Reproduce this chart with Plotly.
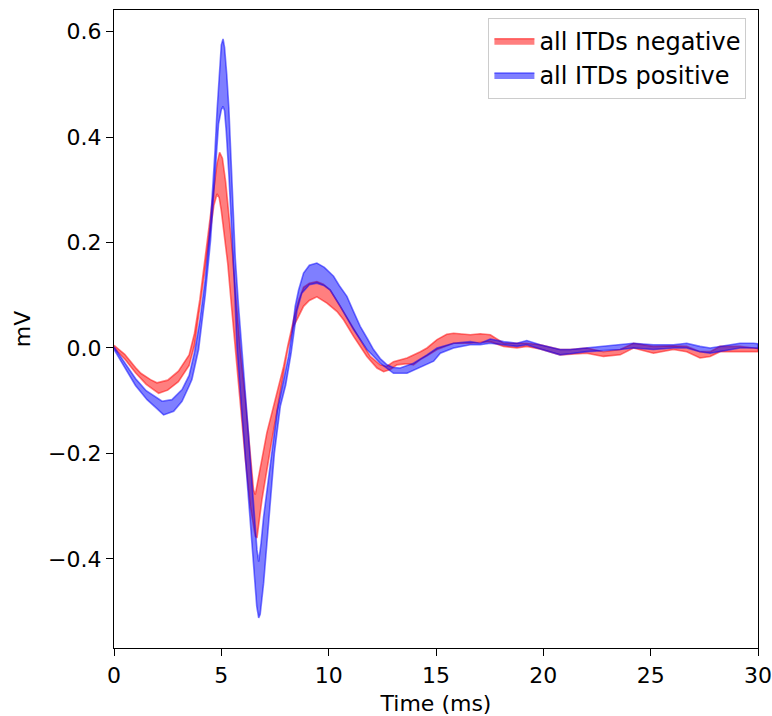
import plotly.graph_objects as go

# ---- data (time in ms, amplitude in mV) ----
t_neg_upper = [0, 0.5, 1.0, 1.25, 1.7, 2.0, 2.5, 3.0, 3.5, 3.75, 4.0, 4.25, 4.5, 4.65, 4.8, 4.92, 5.05, 5.2, 5.35,
               5.5, 5.65, 5.88, 6.12, 6.32, 6.5, 6.58, 6.81, 7.12, 7.51, 7.9, 8.1, 8.4, 8.6, 8.83, 9.1, 9.45, 9.75,
               10.07, 10.54, 11.0, 11.47, 11.94, 12.4, 12.7, 13.02, 13.65, 14.27, 14.58, 15.05, 15.5, 15.82, 16.6,
               17.06, 17.53, 18.15, 18.77, 19.23, 19.85, 20.78, 21.25, 22.02, 22.8, 23.58, 24.2, 25.13, 26.06, 26.68,
               27.3, 27.77, 28.23, 29.16, 29.79, 30]
neg_upper = [0.005, -0.012, -0.037, -0.048, -0.060, -0.066, -0.061, -0.044, -0.013, 0.028, 0.092, 0.170, 0.250, 0.300,
             0.350, 0.371, 0.360, 0.315, 0.255, 0.190, 0.110, -0.003, -0.098, -0.193, -0.269, -0.278, -0.225, -0.161,
             -0.098, -0.035, 0.005, 0.060, 0.090, 0.115, 0.123, 0.126, 0.121, 0.110, 0.079, 0.047, 0.016, -0.016,
             -0.032, -0.035, -0.026, -0.019, -0.007, 0.000, 0.016, 0.026, 0.028, 0.025, 0.027, 0.025, 0.009, 0.009,
             0.009, 0.006, -0.003, -0.003, 0.000, -0.007, -0.003, 0.009, 0.003, 0.004, 0.003, -0.007, -0.007, 0.003,
             0.003, 0.000, 0.000]

t_neg_lower = [0, 0.5, 1.0, 1.5, 2.08, 2.5, 3.0, 3.5, 3.75, 4.0, 4.25, 4.5, 4.65, 4.8, 4.9, 5.0, 5.15, 5.3, 5.45,
               5.65, 5.88, 6.12, 6.35, 6.58, 6.66, 6.75, 6.89, 7.28, 7.67, 8.09, 8.35, 8.6, 8.83, 9.1, 9.45, 9.92,
               10.39, 10.7, 11.16, 11.78, 12.25, 12.56, 12.87, 13.18, 13.65, 13.95, 14.27, 14.58, 15.05, 15.82, 16.6,
               17.06, 17.53, 18.15, 18.77, 19.23, 19.85, 20.78, 21.25, 22.02, 22.8, 23.58, 24.2, 25.13, 26.06, 26.68,
               27.3, 27.77, 28.23, 29.16, 29.79, 30]
neg_lower = [0.000, -0.021, -0.047, -0.069, -0.086, -0.080, -0.064, -0.033, 0.005, 0.070, 0.150, 0.225, 0.270, 0.292,
             0.285, 0.260, 0.215, 0.160, 0.090, -0.003, -0.098, -0.212, -0.300, -0.357, -0.360, -0.330, -0.288, -0.193,
             -0.098, -0.003, 0.040, 0.060, 0.079, 0.090, 0.097, 0.085, 0.069, 0.053, 0.022, -0.016, -0.038, -0.045,
             -0.041, -0.032, -0.030, -0.032, -0.022, -0.015, -0.003, 0.009, 0.009, 0.011, 0.012, 0.003, 0.000, 0.003,
             -0.002, -0.013, -0.011, -0.010, -0.016, -0.013, 0.000, -0.010, -0.003, -0.007, -0.019, -0.016, -0.007,
             -0.007, -0.007, -0.007]

t_pos_upper = [0, 0.5, 1.0, 1.5, 2.24, 2.7, 3.17, 3.5, 3.75, 4.0, 4.25, 4.5, 4.6, 4.7, 4.8, 4.9, 5.0, 5.08, 5.15,
               5.25, 5.35, 5.45, 5.55, 5.65, 5.8, 5.96, 6.1, 6.25, 6.4, 6.55, 6.66, 6.74, 6.85, 6.97, 7.2, 7.36, 7.6,
               7.85, 8.13, 8.29, 8.44, 8.6, 8.83, 9.1, 9.45, 9.8, 10.23, 10.5, 10.85, 11.15, 11.47, 11.8, 12.09, 12.4,
               12.72, 13.0, 13.33, 13.95, 14.27, 14.58, 15.05, 15.82, 16.6, 17.06, 17.53, 18.15, 18.77, 19.23, 19.85,
               20.78, 21.25, 22.02, 22.8, 23.58, 24.2, 25.13, 26.06, 26.68, 27.3, 27.77, 28.23, 29.16, 29.79, 30]
pos_upper = [0.002, -0.027, -0.058, -0.081, -0.101, -0.098, -0.079, -0.052, -0.008, 0.052, 0.130, 0.240, 0.300, 0.370,
             0.450, 0.520, 0.575, 0.586, 0.570, 0.520, 0.455, 0.360, 0.260, 0.170, 0.080, 0.000, -0.070, -0.155,
             -0.240, -0.320, -0.383, -0.405, -0.370, -0.320, -0.250, -0.193, -0.120, -0.070, -0.016, 0.028, 0.079,
             0.110, 0.142, 0.157, 0.161, 0.153, 0.136, 0.118, 0.098, 0.070, 0.041, 0.018, -0.003, -0.020, -0.032,
             -0.037, -0.038, -0.029, -0.020, -0.013, 0.000, 0.009, 0.012, 0.009, 0.017, 0.012, 0.009, 0.014, 0.006,
             -0.003, -0.003, 0.000, 0.003, 0.006, 0.009, 0.006, 0.006, 0.009, 0.003, 0.000, 0.003, 0.009, 0.009, 0.008]

t_pos_lower = [0, 0.5, 1.0, 1.54, 2.0, 2.31, 2.78, 3.17, 3.5, 3.63, 3.94, 4.25, 4.5, 4.64, 4.75, 4.87, 5.0, 5.08,
               5.15, 5.23, 5.35, 5.5, 5.62, 5.73, 5.9, 6.1, 6.3, 6.5, 6.65, 6.74, 6.81, 6.97, 7.12, 7.28, 7.47, 7.75,
               8.0, 8.25, 8.52, 8.75, 9.1, 9.45, 9.8, 10.07, 10.54, 11.16, 11.78, 12.4, 13.02, 13.65, 14.27, 14.89,
               15.2, 15.82, 16.6, 17.06, 17.53, 18.15, 18.77, 19.23, 19.85, 20.78, 21.25, 22.02, 22.8, 23.58, 24.2,
               25.13, 26.06, 26.68, 27.3, 27.77, 28.23, 29.16, 29.79, 30]
pos_lower = [-0.003, -0.036, -0.071, -0.098, -0.115, -0.127, -0.120, -0.101, -0.072, -0.060, -0.003, 0.100, 0.205,
             0.290, 0.360, 0.425, 0.452, 0.458, 0.450, 0.410, 0.330, 0.220, 0.110, 0.000, -0.090, -0.190, -0.300,
             -0.410, -0.490, -0.512, -0.505, -0.446, -0.383, -0.300, -0.200, -0.110, -0.070, -0.010, 0.070, 0.104,
             0.120, 0.123, 0.118, 0.110, 0.079, 0.035, -0.003, -0.029, -0.048, -0.048, -0.036, -0.025, -0.010, 0.000,
             0.006, 0.006, 0.009, 0.006, 0.003, 0.006, -0.002, -0.013, -0.011, -0.007, -0.005, -0.003, 0.000, -0.003,
             0.000, 0.000, -0.007, -0.010, -0.007, 0.000, 0.000, -0.001]

series_names = ["all ITDs negative", "all ITDs positive"]
x_ticks = [0, 5, 10, 15, 20, 25, 30]
y_ticks = [-0.4, -0.2, 0.0, 0.2, 0.4, 0.6]

FONT = "DejaVu Sans"
FS = 22

fig = go.Figure()
bands = [
    (t_neg_upper, neg_upper, t_neg_lower, neg_lower, "255,0,0", series_names[0]),
    (t_pos_upper, pos_upper, t_pos_lower, pos_lower, "0,0,255", series_names[1]),
]
for tu, yu, tl, yl, rgb, name in bands:
    fig.add_trace(go.Scatter(
        x=list(tu) + list(tl)[::-1],
        y=list(yu) + list(yl)[::-1],
        mode="lines",
        fill="toself",
        fillcolor=f"rgba({rgb},0.5)",
        line=dict(color=f"rgba({rgb},0.5)", width=1.6),
        name=name,
        hoverinfo="skip",
    ))

axis_common = dict(
    showline=True, mirror=True, linecolor="black", linewidth=1.3,
    ticks="outside", ticklen=7, tickwidth=1.3, tickcolor="black",
    showgrid=False, zeroline=False, automargin=False,
    tickfont=dict(family=FONT, size=FS, color="black"),
)

fig.update_layout(
    width=772, height=716,
    margin=dict(l=114, r=14, t=10, b=68),
    plot_bgcolor="white", paper_bgcolor="white",
    font=dict(family=FONT, size=FS, color="black"),
    xaxis=dict(range=[0, 30], tickvals=x_ticks,
               title=dict(text="Time (ms)", font=dict(family=FONT, size=FS), standoff=14),
               **axis_common),
    yaxis=dict(range=[-0.569, 0.641], tickvals=y_ticks, tickformat=".1f",
               title=dict(text="mV", font=dict(family=FONT, size=FS), standoff=11),
               **axis_common),
    legend=dict(x=0.982, y=0.988, xanchor="right", yanchor="top",
                bgcolor="rgba(255,255,255,0.8)", bordercolor="#cccccc", borderwidth=1,
                font=dict(family=FONT, size=24, color="black"),
                tracegroupgap=0, itemwidth=40),
    showlegend=True,
)

fig.write_html(
    "out.html",
    config={"displayModeBar": False},
    post_script="document.body.style.margin='0';document.body.style.overflow='hidden';",
)
